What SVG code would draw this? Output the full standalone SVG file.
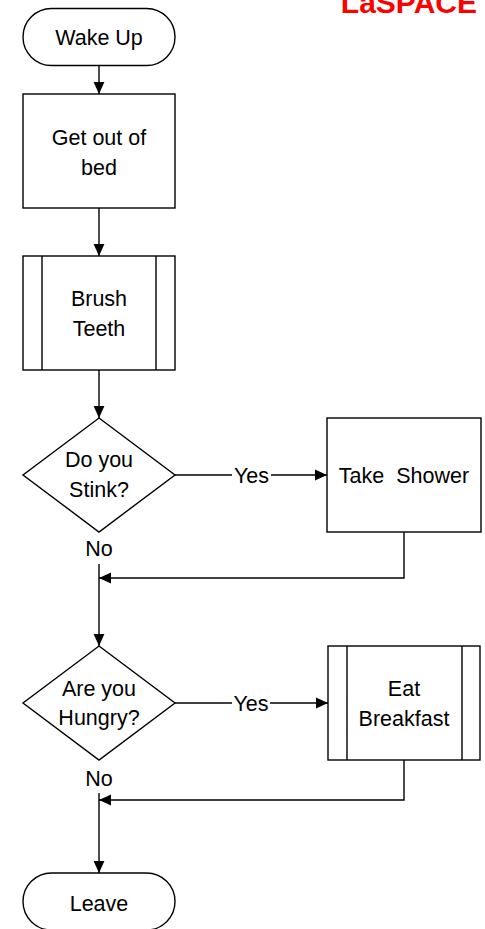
<svg xmlns="http://www.w3.org/2000/svg" width="485" height="929" viewBox="0 0 485 929">
<defs>
<marker id="arr" markerUnits="userSpaceOnUse" markerWidth="12" markerHeight="12" viewBox="0 0 10 10" refX="10" refY="5" orient="auto">
<path d="M0,0.5 L10,5 L0,9.5 z" fill="#000"/>
</marker>
</defs>
<style>
.s{fill:#fff;stroke:#000;stroke-width:1.4}
.l{fill:none;stroke:#000;stroke-width:1.4}
.c{fill:none;stroke:#000;stroke-width:1.4}
text{font-family:"Liberation Sans",Arial,sans-serif;font-size:21.5px;fill:#000}
.t{text-anchor:middle}
.logo{font-weight:bold;font-size:30px;fill:#ff0000;text-anchor:end}
</style>
<rect width="485" height="929" fill="#fff"/>
<text class="logo" x="477" y="13">LaSPACE</text>
<g id="connectors">
<path class="c" d="M99,66 V94" marker-end="url(#arr)"/>
<path class="c" d="M99,208 V256" marker-end="url(#arr)"/>
<path class="c" d="M99,370 V418" marker-end="url(#arr)"/>
<path class="c" d="M175,475 H232"/>
<path class="c" d="M271,475 H327" marker-end="url(#arr)"/>
<text class="t" x="251.5" y="482.5">Yes</text>
<path class="c" d="M404,532 V578 H99" marker-end="url(#arr)"/>
<text class="t" x="99" y="556">No</text>
<path class="c" d="M99,564 V646" marker-end="url(#arr)"/>
<path class="c" d="M175,703 H232"/>
<path class="c" d="M270,703 H328" marker-end="url(#arr)"/>
<text class="t" x="251" y="711">Yes</text>
<path class="c" d="M404,760 V800 H99" marker-end="url(#arr)"/>
<text class="t" x="99" y="786">No</text>
<path class="c" d="M99,793 V873" marker-end="url(#arr)"/>
</g>
<g id="wake-up">
<rect class="s" x="23" y="8.5" width="152" height="57" rx="28.5"/>
<text class="t" x="99" y="44.5">Wake Up</text>
</g>
<g id="get-out-of-bed">
<rect class="s" x="23" y="94" width="152" height="114"/>
<text class="t" x="99" y="144.5">Get out of</text>
<text class="t" x="99" y="174.5">bed</text>
</g>
<g id="brush-teeth">
<rect class="s" x="23" y="256" width="152" height="114"/>
<path class="l" d="M42,256 V370 M156,256 V370"/>
<text class="t" x="99" y="306">Brush</text>
<text class="t" x="99" y="336">Teeth</text>
</g>
<g id="do-you-stink">
<path class="s" d="M99,418 L175,475 L99,532 L23,475 z"/>
<text class="t" x="99" y="466.5">Do you</text>
<text class="t" x="99" y="497">Stink?</text>
</g>
<g id="take-shower">
<rect class="s" x="327" y="418" width="154" height="114"/>
<text class="t" x="404" y="482.5" xml:space="preserve">Take  Shower</text>
</g>
<g id="are-you-hungry">
<path class="s" d="M99,646 L175,703 L99,760 L23,703 z"/>
<text class="t" x="99" y="695.5">Are you</text>
<text class="t" x="99" y="724.5">Hungry?</text>
</g>
<g id="eat-breakfast">
<rect class="s" x="328" y="646" width="152" height="114"/>
<path class="l" d="M347,646 V760 M462,646 V760"/>
<text class="t" x="404" y="696">Eat</text>
<text class="t" x="404" y="726">Breakfast</text>
</g>
<g id="leave">
<rect class="s" x="23" y="873" width="152" height="57" rx="28.5"/>
<text class="t" x="99" y="910.5">Leave</text>
</g>
</svg>
